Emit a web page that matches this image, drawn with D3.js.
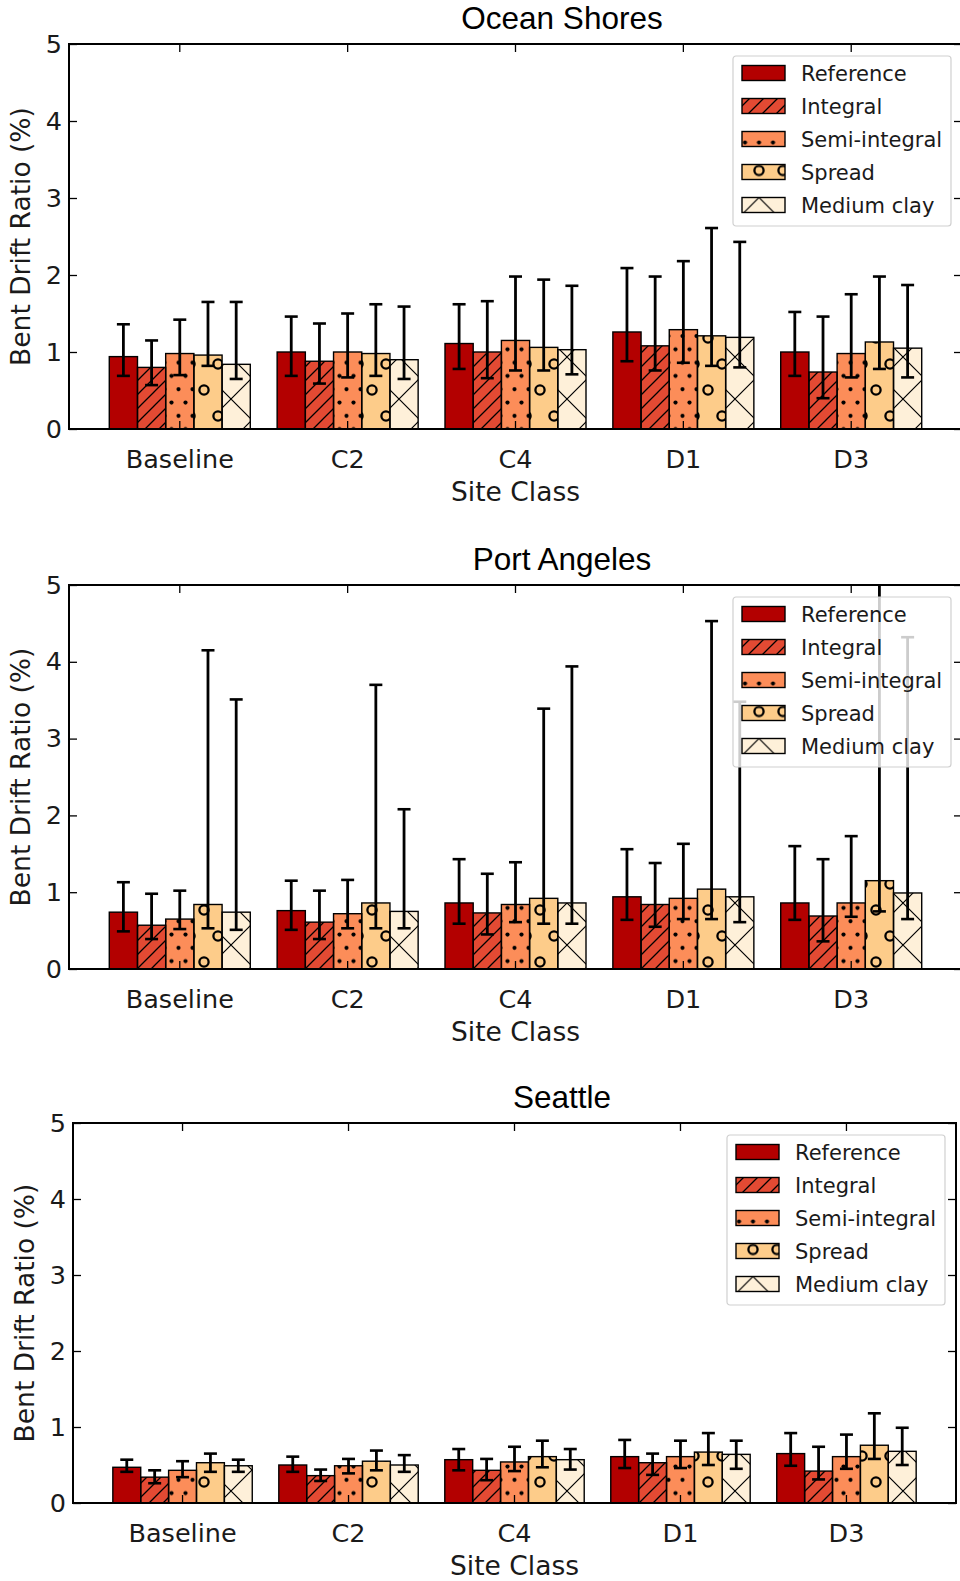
<!DOCTYPE html>
<html>
<head>
<meta charset="utf-8">
<script src="https://cdn.jsdelivr.net/npm/d3@7"></script>
<style>
  body { margin: 0; background: #fff; }
  svg { display: block; }
</style>
</head>
<body>
<div id="vis"></div>
<script>
// categories and series
var siteClasses = ["Baseline", "C2", "C4", "D1", "D3"];
var seriesNames = ["Reference", "Integral", "Semi-integral", "Spread", "Medium clay"];
var seriesColors = ["#b30000", "#e34a33", "#fc8d59", "#fdcc8a", "#fef0d9"];
var seriesHatch = ["none", "slash", "dots", "rings", "cross"];
var yTicks = [0, 1, 2, 3, 4, 5];

// one row per series, one column per site class
var oceanMean = [[0.94, 1.00, 1.11, 1.26, 1.00], [0.80, 0.88, 1.00, 1.08, 0.74], [0.98, 1.00, 1.15, 1.29, 0.98], [0.96, 0.98, 1.06, 1.21, 1.13], [0.84, 0.90, 1.03, 1.19, 1.05]];
var oceanLow  = [[0.69, 0.69, 0.78, 0.88, 0.69], [0.57, 0.59, 0.66, 0.76, 0.40], [0.70, 0.67, 0.76, 0.86, 0.67], [0.82, 0.69, 0.76, 0.82, 0.78], [0.65, 0.65, 0.71, 0.80, 0.67]];
var oceanHigh = [[1.36, 1.46, 1.62, 2.09, 1.52], [1.15, 1.37, 1.66, 1.98, 1.46], [1.42, 1.50, 1.98, 2.18, 1.75], [1.65, 1.62, 1.94, 2.61, 1.98], [1.65, 1.59, 1.86, 2.43, 1.87]];

var portMean = [[0.74, 0.76, 0.86, 0.94, 0.86], [0.57, 0.61, 0.73, 0.84, 0.69], [0.65, 0.72, 0.84, 0.92, 0.86], [0.84, 0.86, 0.92, 1.04, 1.15], [0.74, 0.75, 0.86, 0.94, 0.99]];
var portLow  = [[0.49, 0.51, 0.59, 0.64, 0.64], [0.39, 0.39, 0.45, 0.55, 0.36], [0.52, 0.53, 0.61, 0.65, 0.68], [0.53, 0.53, 0.59, 0.65, 0.75], [0.51, 0.53, 0.59, 0.61, 0.65]];
var portHigh = [[1.13, 1.15, 1.43, 1.56, 1.60], [0.98, 1.02, 1.24, 1.38, 1.43], [1.02, 1.16, 1.39, 1.63, 1.73], [4.15, 3.70, 3.39, 4.53, 5.60], [3.51, 2.08, 3.94, 3.48, 4.32]];

var seattleMean = [[0.47, 0.50, 0.57, 0.61, 0.65], [0.34, 0.36, 0.43, 0.53, 0.42], [0.43, 0.49, 0.54, 0.61, 0.61], [0.53, 0.55, 0.61, 0.67, 0.76], [0.49, 0.50, 0.57, 0.64, 0.68]];
var seattleLow  = [[0.41, 0.41, 0.43, 0.46, 0.49], [0.26, 0.29, 0.30, 0.37, 0.31], [0.34, 0.39, 0.42, 0.46, 0.45], [0.41, 0.43, 0.47, 0.50, 0.58], [0.41, 0.41, 0.44, 0.45, 0.50]];
var seattleHigh = [[0.57, 0.61, 0.71, 0.83, 0.92], [0.43, 0.44, 0.58, 0.65, 0.74], [0.55, 0.58, 0.74, 0.82, 0.90], [0.65, 0.69, 0.82, 0.92, 1.18], [0.57, 0.63, 0.71, 0.82, 0.99]];

var panels = [
  { title: "Ocean Shores", mean: oceanMean, low: oceanLow, high: oceanHigh, left: 69, right: 962, top: 44, bottom: 429 },
  { title: "Port Angeles", mean: portMean, low: portLow, high: portHigh, left: 69, right: 962, top: 585, bottom: 969 },
  { title: "Seattle", mean: seattleMean, low: seattleLow, high: seattleHigh, left: 73, right: 956, top: 1123, bottom: 1503 }
];

var width = 960, height = 1581;
var sansFont = "'DejaVu Sans', sans-serif";
var textColor = "#1a1a1a";

var svg = d3.select("#vis").append("svg")
  .attr("width", width)
  .attr("height", height);

var defs = svg.append("defs");

// hatch patterns (transparent background, drawn over the coloured bar)
function slashPattern(id, ox, oy) {
  var pat = defs.append("pattern").attr("id", id)
    .attr("patternUnits", "userSpaceOnUse").attr("x", ox).attr("y", oy)
    .attr("width", 14).attr("height", 14);
  pat.append("path")
    .attr("d", "M-2,2 L2,-2 M0,14 L14,0 M12,16 L16,12")
    .attr("stroke", "#000").attr("stroke-width", 1.3);
}
function dotsPattern(id, ox, oy) {
  var pat = defs.append("pattern").attr("id", id)
    .attr("patternUnits", "userSpaceOnUse").attr("x", ox).attr("y", oy)
    .attr("width", 14).attr("height", 26.6);
  pat.append("circle").attr("cx", 3.5).attr("cy", 3.5).attr("r", 2.1).attr("fill", "#000");
  pat.append("circle").attr("cx", 10.5).attr("cy", 16.8).attr("r", 2.1).attr("fill", "#000");
}
function ringsPattern(id, ox, oy, w) {
  var pat = defs.append("pattern").attr("id", id)
    .attr("patternUnits", "userSpaceOnUse").attr("x", ox).attr("y", oy)
    .attr("width", w).attr("height", 52);
  pat.append("circle").attr("cx", w / 2).attr("cy", 26).attr("r", 4.6)
    .attr("fill", "none").attr("stroke", "#000").attr("stroke-width", 2.3);
  [[0, 0], [w, 0], [0, 52], [w, 52]].forEach(function (c) {
    pat.append("circle").attr("cx", c[0]).attr("cy", c[1]).attr("r", 4.6)
      .attr("fill", "none").attr("stroke", "#000").attr("stroke-width", 2.3);
  });
}
function crossPattern(id, ox, oy) {
  var pat = defs.append("pattern").attr("id", id)
    .attr("patternUnits", "userSpaceOnUse").attr("x", ox).attr("y", oy)
    .attr("width", 42).attr("height", 42);
  pat.append("path")
    .attr("d", "M0,42 L42,0 M0,0 L42,42")
    .attr("stroke", "#000").attr("stroke-width", 1.2);
}

slashPattern("slash", 0, 0);
dotsPattern("dots", 0, 0);
ringsPattern("rings", -6, 0, 28);
crossPattern("cross", 0, 0);
// legend patches have their own phase
slashPattern("slashLeg", 2, -7);
dotsPattern("dotsLeg", 8.5, 0);
ringsPattern("ringsLeg", -10, -27.5, 24);
crossPattern("crossLeg", 5, -28.5);

function drawPanel(p, idx) {
  var x = d3.scaleBand()
    .domain(siteClasses)
    .range([p.left, p.right])
    .paddingInner(0)
    .paddingOuter(0.16);

  var barW = x.step() * 0.168;
  var xs = d3.scaleBand()
    .domain(seriesNames)
    .range([-2.5 * barW, 2.5 * barW]);

  var y = d3.scaleLinear().domain([0, 5]).range([p.bottom, p.top]);

  var g = svg.append("g");

  g.append("clipPath").attr("id", "clip" + idx)
    .append("rect")
    .attr("x", p.left).attr("y", p.top)
    .attr("width", p.right - p.left).attr("height", p.bottom - p.top);

  var plot = g.append("g").attr("clip-path", "url(#clip" + idx + ")");

  // flatten for drawing
  var rows = [];
  seriesNames.forEach(function (s, si) {
    siteClasses.forEach(function (c, ci) {
      rows.push({ s: s, si: si, c: c, v: p.mean[si][ci], lo: p.low[si][ci], hi: p.high[si][ci] });
    });
  });

  function bx(d) { return x(d.c) + x.bandwidth() / 2 + xs(d.s); }

  plot.selectAll(".bar")
    .data(rows)
    .enter().append("rect")
    .attr("class", "bar")
    .attr("x", bx)
    .attr("y", function (d) { return y(d.v); })
    .attr("width", xs.bandwidth())
    .attr("height", function (d) { return y(0) - y(d.v); })
    .attr("fill", function (d) { return seriesColors[d.si]; });

  plot.selectAll(".hatch")
    .data(rows.filter(function (d) { return seriesHatch[d.si] != "none"; }))
    .enter().append("rect")
    .attr("class", "hatch")
    .attr("x", bx)
    .attr("y", function (d) { return y(d.v); })
    .attr("width", xs.bandwidth())
    .attr("height", function (d) { return y(0) - y(d.v); })
    .attr("fill", function (d) { return "url(#" + seriesHatch[d.si] + ")"; });

  plot.selectAll(".outline")
    .data(rows)
    .enter().append("rect")
    .attr("class", "outline")
    .attr("x", bx)
    .attr("y", function (d) { return y(d.v); })
    .attr("width", xs.bandwidth())
    .attr("height", function (d) { return y(0) - y(d.v); })
    .attr("fill", "none")
    .attr("stroke", "#000")
    .attr("stroke-width", 1.4);

  // error bars
  var capHalf = 6.5;
  var err = plot.selectAll(".err")
    .data(rows)
    .enter().append("g")
    .attr("class", "err")
    .attr("transform", function (d) { return "translate(" + (bx(d) + xs.bandwidth() / 2) + ",0)"; });
  err.append("line")
    .attr("y1", function (d) { return y(d.lo); })
    .attr("y2", function (d) { return y(d.hi); })
    .attr("stroke", "#000").attr("stroke-width", 2.8);
  err.append("line")
    .attr("x1", -capHalf).attr("x2", capHalf)
    .attr("y1", function (d) { return y(d.hi); })
    .attr("y2", function (d) { return y(d.hi); })
    .attr("stroke", "#000").attr("stroke-width", 2.6);
  err.append("line")
    .attr("x1", -capHalf).attr("x2", capHalf)
    .attr("y1", function (d) { return y(d.lo); })
    .attr("y2", function (d) { return y(d.lo); })
    .attr("stroke", "#000").attr("stroke-width", 2.6);

  // axes: inward ticks all around
  var axL = g.append("g").attr("transform", "translate(" + p.left + ",0)")
    .call(d3.axisLeft(y).tickValues(yTicks).tickFormat(d3.format("d")).tickSizeInner(-8).tickSizeOuter(0).tickPadding(7));
  var axR = g.append("g").attr("transform", "translate(" + p.right + ",0)")
    .call(d3.axisRight(y).tickValues(yTicks).tickFormat("").tickSizeInner(-8).tickSizeOuter(0));
  var axB = g.append("g").attr("transform", "translate(0," + p.bottom + ")")
    .call(d3.axisBottom(x).tickSizeInner(-8).tickSizeOuter(0).tickPadding(21));
  var axT = g.append("g").attr("transform", "translate(0," + p.top + ")")
    .call(d3.axisTop(x).tickFormat("").tickSizeInner(-8).tickSizeOuter(0));

  [axL, axR, axB, axT].forEach(function (a) {
    a.select(".domain").remove();
    a.selectAll(".tick line").attr("stroke", "#000").attr("stroke-width", 1.3);
    a.selectAll("text")
      .style("font-family", sansFont)
      .style("font-size", "25.5px")
      .attr("fill", textColor);
  });

  // spines
  g.append("rect")
    .attr("x", p.left).attr("y", p.top)
    .attr("width", p.right - p.left).attr("height", p.bottom - p.top)
    .attr("fill", "none").attr("stroke", "#000").attr("stroke-width", 2);

  // legend
  var lw = 218, lh = 170;
  var lx = p.right - 11 - lw, ly = p.top + 12;
  var leg = g.append("g").attr("transform", "translate(" + lx + "," + ly + ")");
  leg.append("rect")
    .attr("width", lw).attr("height", lh)
    .attr("rx", 3)
    .attr("fill", "#fff").attr("fill-opacity", 0.8)
    .attr("stroke", "#d0d0d0").attr("stroke-width", 1.2);
  var item = leg.selectAll(".item")
    .data(seriesNames)
    .enter().append("g")
    .attr("class", "item")
    .attr("transform", function (d, i) { return "translate(0," + (17 + i * 33) + ")"; });
  item.append("rect")
    .attr("x", 9).attr("y", -7.5).attr("width", 43).attr("height", 15)
    .attr("fill", function (d, i) { return seriesColors[i]; });
  item.filter(function (d, i) { return seriesHatch[i] != "none"; })
    .append("rect")
    .attr("x", 9).attr("y", -7.5).attr("width", 43).attr("height", 15)
    .attr("fill", function (d) { return "url(#" + seriesHatch[seriesNames.indexOf(d)] + "Leg)"; });
  item.append("rect")
    .attr("x", 9).attr("y", -7.5).attr("width", 43).attr("height", 15)
    .attr("fill", "none").attr("stroke", "#000").attr("stroke-width", 1.4);
  item.append("text")
    .attr("x", 68).attr("dy", "0.36em")
    .style("font-family", sansFont)
    .style("font-size", "21px")
    .attr("fill", textColor)
    .text(function (d) { return d; });

  // titles and labels
  g.append("text")
    .attr("x", 562).attr("y", p.top - 15)
    .attr("text-anchor", "middle")
    .style("font-family", "'Liberation Sans', Arial, sans-serif")
    .style("font-size", "31.5px")
    .attr("fill", "#000")
    .text(p.title);

  g.append("text")
    .attr("x", (p.left + p.right) / 2).attr("y", p.bottom + 72)
    .attr("text-anchor", "middle")
    .style("font-family", sansFont)
    .style("font-size", "26.5px")
    .attr("fill", textColor)
    .text("Site Class");

  g.append("text")
    .attr("transform", "translate(" + (p.left - 39) + "," + ((p.top + p.bottom) / 2) + ") rotate(-90)")
    .attr("text-anchor", "middle")
    .style("font-family", sansFont)
    .style("font-size", "26.5px")
    .attr("fill", textColor)
    .text("Bent Drift Ratio (%)");
}

panels.forEach(drawPanel);
</script>
</body>
</html>
